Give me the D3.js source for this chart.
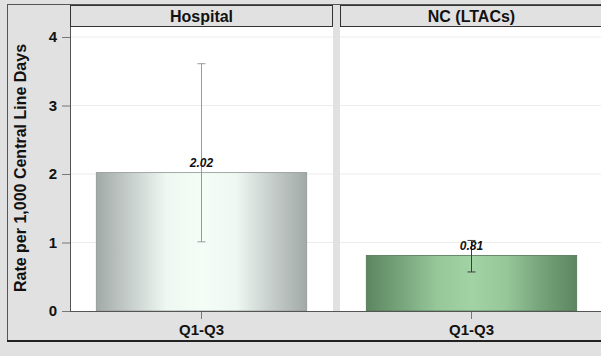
<!DOCTYPE html>
<html lang="en">
<head>
  <meta charset="utf-8">
  <title>Rate per 1,000 Central Line Days</title>
  <script src="https://cdn.jsdelivr.net/npm/d3@7"></script>
  <style>
    body { margin: 0; background: #e1e1e1; }
    text { font-family: "Liberation Sans", Arial, sans-serif; }
  </style>
</head>
<body>
<script>
  // data
  var panels = ["Hospital", "NC (LTACs)"];
  var categories = ["Q1-Q3"];
  var rates = [2.02, 0.81];
  var lower = [1.01, 0.57];
  var upper = [3.61, 1.03];
  var yTicks = [0, 1, 2, 3, 4];

  var w = 601, h = 356;
  var plotTop = 27, plotBottom = 311;
  var panelW = 263, gap = 7, left = 70;

  var svg = d3.select("body").append("svg")
    .attr("width", w)
    .attr("height", h);

  // gradients for the bars
  var defs = svg.append("defs");
  var grads = [
    ["g0", ["#a2aaa8", "#c8cfcd", "#eef8f1", "#f4fef7", "#eef7f1", "#c6cdcb", "#a2aaa8"]],
    ["g1", ["#5c8661", "#78a57c", "#95c799", "#a1d3a5", "#95c799", "#76a37a", "#5c8661"]]
  ];
  grads.forEach(function (g) {
    var lg = defs.append("linearGradient").attr("id", g[0])
      .attr("x1", "0%").attr("x2", "100%").attr("y1", "0%").attr("y2", "0%");
    g[1].forEach(function (c, i) {
      lg.append("stop").attr("offset", (i / (g[1].length - 1) * 100) + "%").attr("stop-color", c);
    });
  });

  // outer frame
  svg.append("rect")
    .attr("x", 7.5).attr("y", 4.5)
    .attr("width", w).attr("height", 336)
    .attr("fill", "#e1e1e1")
    .attr("stroke", "#555");
  svg.append("line")
    .attr("x1", 7).attr("x2", w).attr("y1", 341).attr("y2", 341)
    .attr("stroke", "#222").attr("stroke-width", 2);

  var y = d3.scaleLinear().domain([0, 4]).range([plotBottom, 37]);

  panels.forEach(function (name, p) {
    var x0 = left + p * (panelW + gap);
    var x = d3.scaleBand().domain(categories)
      .range([x0, x0 + panelW])
      .paddingInner(0.2).paddingOuter(0.1);

    var g = svg.append("g");

    // plot background
    g.append("rect")
      .attr("x", x0).attr("y", plotTop)
      .attr("width", panelW).attr("height", plotBottom - plotTop)
      .attr("fill", "#fff");

    // gridlines
    g.selectAll(".grid").data(yTicks.slice(1)).enter()
      .append("line")
      .attr("x1", x0).attr("x2", x0 + panelW)
      .attr("y1", function (d) { return y(d); })
      .attr("y2", function (d) { return y(d); })
      .attr("stroke", "#ececec");

    // header strip
    g.append("rect")
      .attr("x", x0 + 0.5).attr("y", 5.5)
      .attr("width", panelW - 1).attr("height", 21)
      .attr("fill", "#e1e1e1")
      .attr("stroke", "#333");
    g.append("text")
      .attr("x", x0 + panelW / 2).attr("y", 22)
      .attr("text-anchor", "middle")
      .attr("font-size", "16px").attr("font-weight", "bold")
      .attr("fill", "#111")
      .text(name);

    // bar
    g.append("rect")
      .attr("x", x(categories[0]))
      .attr("y", y(rates[p]))
      .attr("width", x.bandwidth())
      .attr("height", y(0) - y(rates[p]))
      .attr("fill", "url(#g" + p + ")")
      .attr("stroke", p === 0 ? "#8e9694" : "#4f7553")
      .attr("stroke-width", 0.8);

    // error bar
    var cx = x(categories[0]) + x.bandwidth() / 2;
    var ec = p === 0 ? "#9a9a9a" : "#3c3c3c";
    g.append("line")
      .attr("x1", cx).attr("x2", cx)
      .attr("y1", y(lower[p])).attr("y2", y(upper[p]))
      .attr("stroke", ec);
    [lower[p], upper[p]].forEach(function (v) {
      g.append("line")
        .attr("x1", cx - 4).attr("x2", cx + 4)
        .attr("y1", y(v)).attr("y2", y(v))
        .attr("stroke", ec);
    });

    // value label
    g.append("text")
      .attr("x", cx).attr("y", y(rates[p]) - 6)
      .attr("text-anchor", "middle")
      .attr("font-size", "12px").attr("font-weight", "bold")
      .attr("font-style", "italic")
      .attr("fill", "#111")
      .text(rates[p].toFixed(2));

    // x axis
    var xAxis = d3.axisBottom(x).tickSizeInner(8).tickSizeOuter(0).tickPadding(5);
    var ax = g.append("g")
      .attr("transform", "translate(0," + plotBottom + ")")
      .call(xAxis);
    ax.select(".domain").remove();
    ax.selectAll(".tick line").attr("stroke", "#777");
    ax.selectAll("text")
      .attr("font-size", "15px").attr("font-weight", "bold")
      .attr("fill", "#111");
  });

  // axis line across both panels
  svg.append("line")
    .attr("x1", left).attr("x2", w)
    .attr("y1", plotBottom + 0.5).attr("y2", plotBottom + 0.5)
    .attr("stroke", "#555");

  // y axis
  var yAxis = d3.axisLeft(y).tickValues(yTicks).tickSizeInner(8).tickSizeOuter(0)
    .tickPadding(5).tickFormat(d3.format("d"));
  var ay = svg.append("g")
    .attr("transform", "translate(" + left + ",0)")
    .call(yAxis);
  ay.select(".domain").remove();
  ay.selectAll(".tick line").attr("stroke", "#777");
  ay.selectAll("text")
    .attr("font-size", "15px").attr("font-weight", "bold")
    .attr("fill", "#111");
  svg.append("line")
    .attr("x1", left + 0.5).attr("x2", left + 0.5)
    .attr("y1", plotTop).attr("y2", plotBottom)
    .attr("stroke", "#555");

  // y axis label
  svg.append("text")
    .attr("transform", "rotate(-90)")
    .attr("x", -168).attr("y", 26)
    .attr("text-anchor", "middle")
    .attr("font-size", "16px").attr("font-weight", "bold")
    .attr("fill", "#111")
    .text("Rate per 1,000 Central Line Days");
</script>
</body>
</html>
